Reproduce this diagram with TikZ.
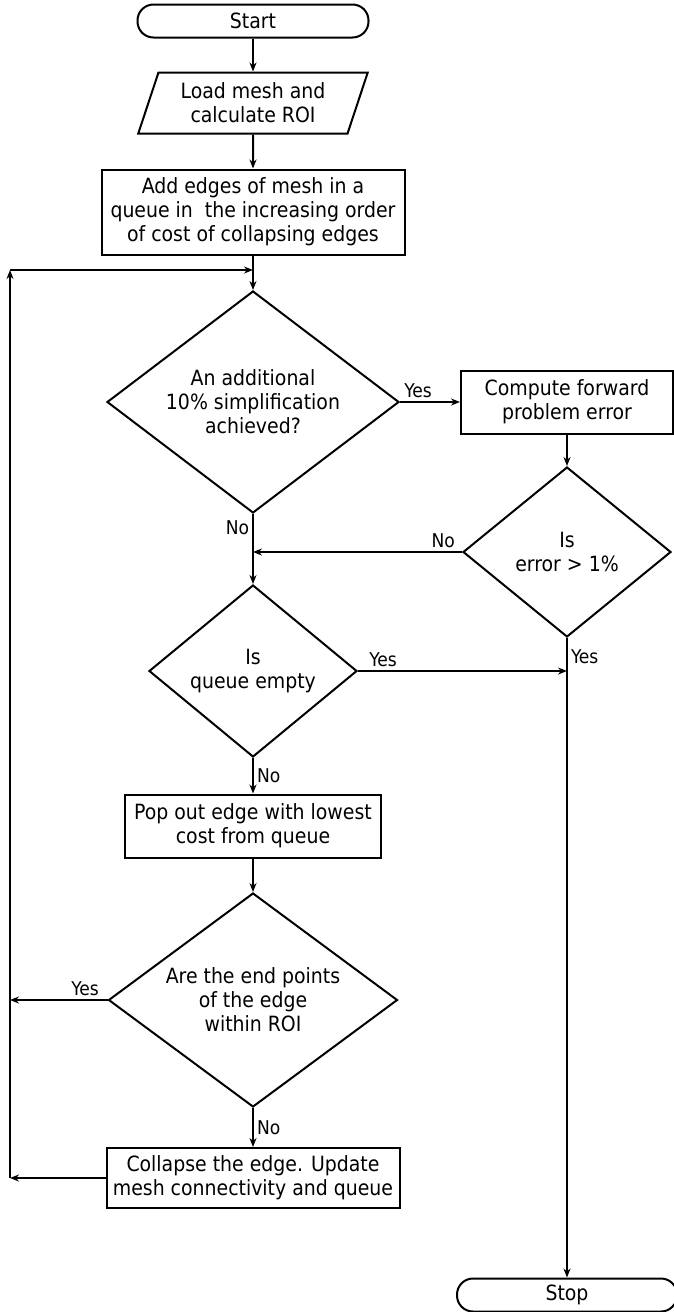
\documentclass[tikz,border=0pt]{standalone}
\usepackage{fontspec}
\setmainfont{DejaVu Sans Condensed}
\usetikzlibrary{shapes.geometric,positioning,arrows.meta}

\begin{document}
\begin{tikzpicture}[>={Stealth[length=9pt,width=7pt]},line width=2pt,
        font=\fontsize{21}{24}\selectfont,
        terminal/.style={draw, rectangle, rounded corners=16pt, minimum height=33pt},
        inout/.style={draw, trapezium, trapezium left angle=71, trapezium right angle=109, trapezium stretches=true, align=center},
        process/.style={draw, rectangle, align=center, inner sep=2pt},
        decision/.style={draw, diamond, aspect=1.35, align=center, inner sep=0pt},
        lbl/.style={font=\fontsize{19}{21}\selectfont, inner sep=3pt}]
        \useasboundingbox (0,0) rectangle (673pt,-1312pt);

        \node (start) [terminal, minimum width=231pt] at (253pt,-21pt) {Start};
        \node (load) [inout, below of=start, node distance=82pt, minimum width=230pt, minimum height=61pt] {Load mesh and\\calculate ROI};
        \node (add) [process, below of=load, node distance=109pt, minimum width=303pt, minimum height=85pt] {Add edges of mesh in a\\queue in\ \ the increasing order\\of cost of collapsing edges};
        \node (simp) [decision, below of=add, node distance=190pt, minimum width=292pt, minimum height=222pt] {An additional\\10\% simplification\\achieved?};
        \node (fwd) [process, right of=simp, node distance=314pt, minimum width=212pt, minimum height=63pt] {Compute forward\\problem error};
        \node (err) [decision, below of=fwd, node distance=150pt, minimum width=208pt, minimum height=170pt] {Is\\error > 1\%};
        \node (empty) [decision, below of=simp, node distance=269pt, minimum width=208pt, minimum height=172pt] {Is\\queue empty};
        \node (pop) [process, below of=empty, node distance=155pt, minimum width=256pt, minimum height=63pt] {Pop out edge with lowest\\cost from queue};
        \node (roi) [decision, below of=pop, node distance=174pt, minimum width=289pt, minimum height=214pt] {Are the end points\\of the edge\\within ROI};
        \node (coll) [process, below of=roi, node distance=178pt, minimum width=293pt, minimum height=60pt] {Collapse the edge. Update\\mesh connectivity and queue};
        \node (stop) [terminal, below of=err, node distance=743pt, minimum width=220pt] {Stop};

        \coordinate (looptop) at (10pt,-270pt);
        \coordinate (loopbot) at (looptop |- coll);
        \coordinate (join) at (add.south |- looptop);

        \draw[->] (start) -- (load);
        \draw[->] (load) -- (add);
        \draw[->] (add) -- (simp);
        \draw[->] (simp) -- node[lbl, above, pos=0.3] {Yes} (fwd);
        \draw[->] (fwd) -- (err);
        \draw[->] (simp) -- node[lbl, left, pos=0.2] {No} (empty);
        \draw[->] (err) -- node[lbl, above, pos=0.09] {No} (simp |- err);
        \draw[->] (empty) -- node[lbl, above, pos=0.12] {Yes} (err |- empty);
        \draw[->] (err) -- node[lbl, right, pos=0.03] {Yes} (stop);
        \draw[->] (empty) -- node[lbl, right] {No} (pop);
        \draw[->] (pop) -- (roi);
        \draw[->] (roi) -- node[lbl, right] {No} (coll);
        \draw[->] (roi) -- node[lbl, above, pos=0.23] {Yes} (looptop |- roi);
        \draw[->] (coll) -- (loopbot);
        \draw[->] (loopbot) -- (looptop);
        \draw[->] (looptop) -- (join);
    \end{tikzpicture}
\end{document}
